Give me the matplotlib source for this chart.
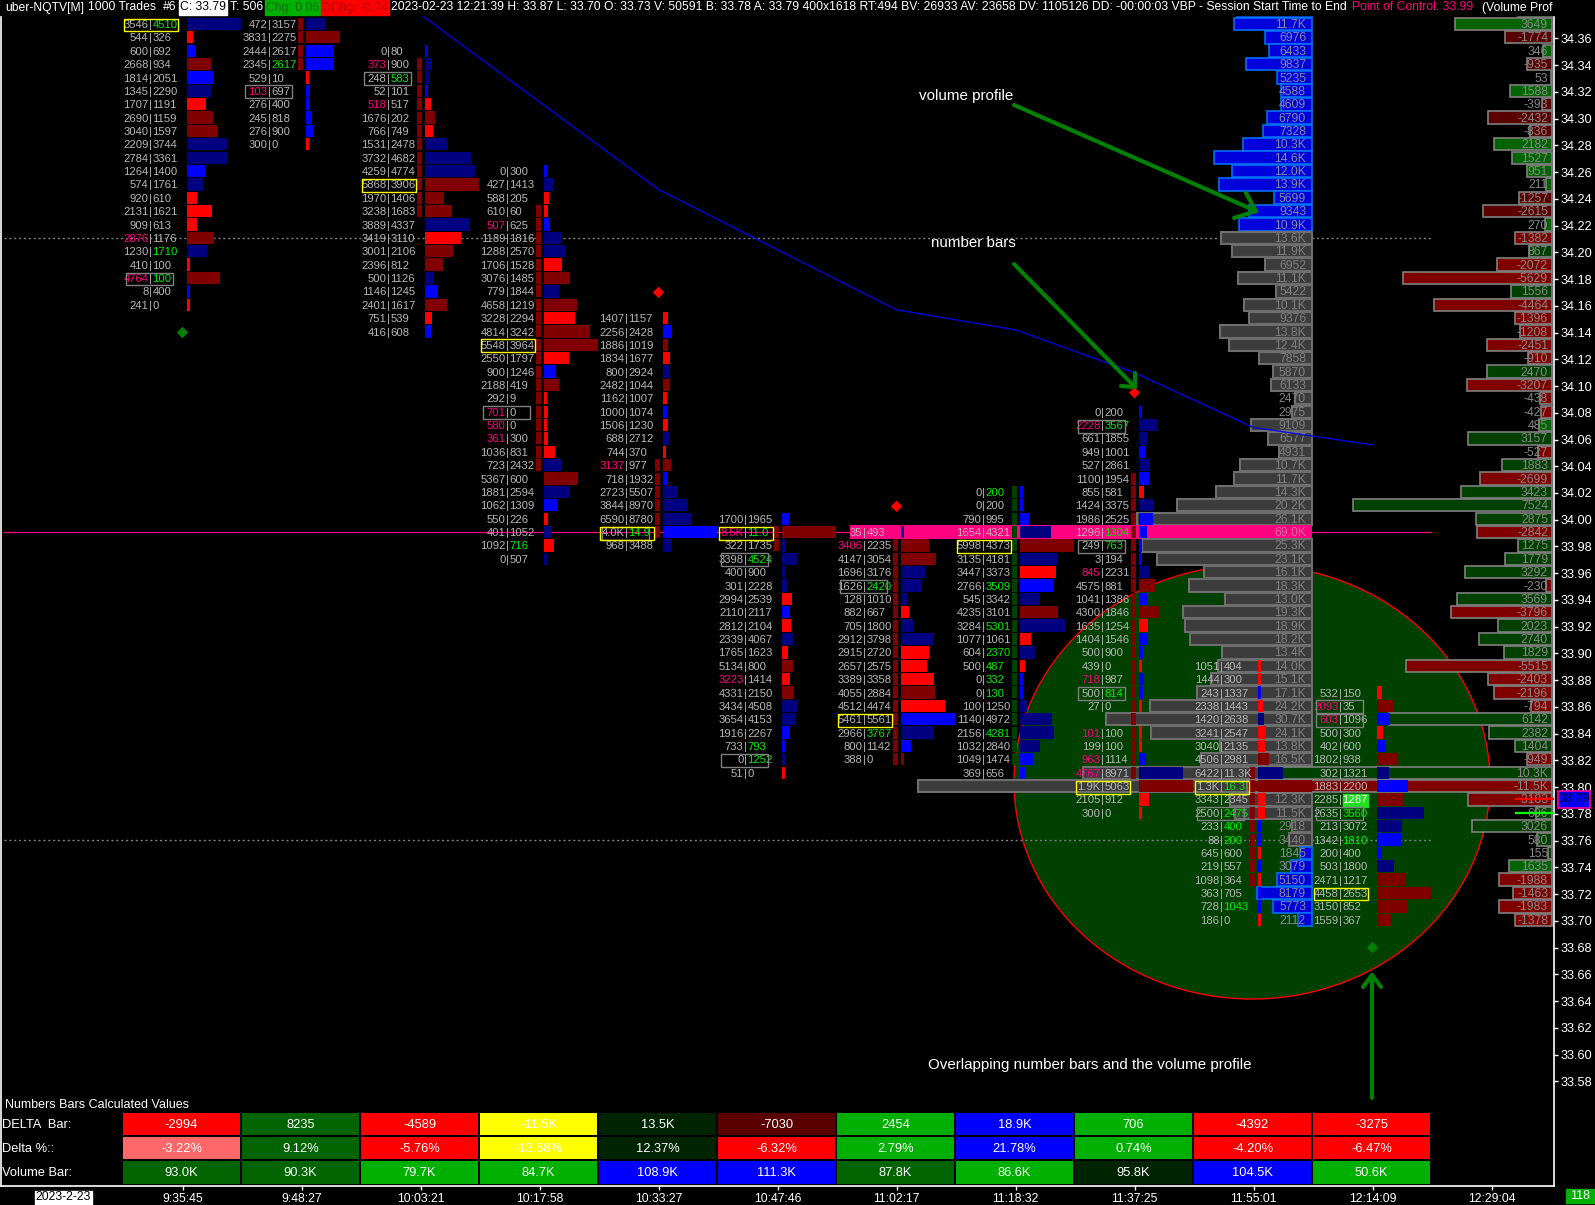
import numpy as np
import matplotlib
matplotlib.use('Agg')
import matplotlib.pyplot as plt
from matplotlib.patches import Ellipse, Rectangle

plt.rcParams['font.family'] = ['Liberation Sans', 'DejaVu Sans']

# ---- number bars: one set of lists per bar, rows go down from PRICE_TOP
PRICE_TOP = [34.37, 34.37, 34.35, 34.26, 34.15, 34.00, 33.99, 34.02, 34.08, 33.89, 33.87]

BID_0 = [3546, 544, 600, 2668, 1814, 1345, 1707, 2690, 3040, 2209, 2784, 1264, 574, 920, 2131, 909, 2876, 1230, 410, 4764, 8, 241]
ASK_0 = [4510, 326, 692, 934, 2051, 2290, 1191, 1159, 1597, 3744, 3361, 1400, 1761, 610, 1621, 613, 1176, 1710, 100, 100, 400, 0]
TONE_0 = 'bRBrBbRrrbbBbRRRrbRrBR'

BID_1 = [472, 3831, 2444, 2345, 529, 103, 276, 245, 276, 300]
ASK_1 = [3157, 2275, 2617, 2617, 10, 697, 400, 818, 900, 0]
TONE_1 = 'brBBRBBBBR'

BID_2 = [0, 373, 248, 52, 518, 1676, 766, 1531, 3732, 4259, 5868, 1970, 3238, 3889, 3419, 3001, 2396, 500, 1146, 2401, 751, 416]
ASK_2 = [80, 900, 583, 101, 517, 202, 749, 2478, 4682, 4774, 3906, 1406, 1683, 4337, 3110, 2106, 812, 1126, 1245, 1617, 539, 608]
TONE_2 = 'BbbBRrRbbbrrrbRrrbBrRB'

BID_3 = [0, 427, 588, 610, 507, 1189, 1288, 1706, 3076, 779, 4658, 3228, 4814, 5548, 2550, 900, 2188, 292, 701, 580, 361, 1036, 723, 5367, 1881, 1062, 550, 401, 1092, 0]
ASK_3 = [300, 1413, 205, 60, 625, 1816, 2570, 1528, 1485, 1844, 1219, 2294, 3242, 3964, 1797, 1246, 419, 9, 0, 0, 300, 831, 2432, 600, 2594, 1309, 226, 1052, 716, 507]
TONE_3 = 'BbRRBbbRrbrRrrRBrRRRRRbrbBRbRb'

BID_4 = [1407, 2256, 1886, 1834, 800, 2482, 1162, 1000, 1506, 688, 744, 3137, 718, 2723, 3844, 6590, 14000, 968]
ASK_4 = [1157, 2428, 1019, 1677, 2924, 1044, 1007, 1074, 1230, 2712, 370, 977, 1932, 5507, 8970, 8780, 14900, 3488]
TONE_4 = 'RBrRbrRBRbRrBbbbBb'

BID_5 = [1700, 18500, 322, 3398, 400, 301, 2994, 2110, 2812, 2339, 1765, 5134, 3223, 4331, 3434, 3654, 1916, 733, 0, 51]
ASK_5 = [1965, 11000, 1735, 4524, 900, 2228, 2539, 2117, 2104, 4067, 1623, 800, 1414, 2150, 4508, 4153, 2267, 793, 1252, 0]
TONE_5 = 'BrbbbbRBRbRrRrbbBBbR'

BID_6 = [35, 3406, 4147, 1696, 1626, 128, 882, 705, 2912, 2915, 2657, 3389, 4055, 4512, 5461, 2966, 800, 388]
ASK_6 = [493, 2235, 3054, 3176, 2420, 1010, 667, 1800, 3798, 2720, 2575, 3358, 2884, 4474, 5561, 3767, 1142, 0]
TONE_6 = 'brrbbbRbbRRRrRBbBr'

BID_7 = [0, 0, 790, 1654, 5998, 3135, 3447, 2766, 545, 4235, 3284, 1077, 604, 500, 0, 0, 100, 1140, 2156, 1032, 1049, 369]
ASK_7 = [200, 200, 995, 4321, 4373, 4181, 3373, 3509, 3342, 3101, 5301, 1061, 2370, 487, 332, 130, 1250, 4972, 4281, 2840, 1474, 656]
TONE_7 = 'BBBbrbRBbrbRbRBBbbbbBB'

# the 0|0 row of bar 8 (33.85) is an empty row in the picture
BID_8 = [0, 2228, 661, 949, 527, 1100, 855, 1424, 1986, 1296, 249, 3, 845, 4575, 1041, 4300, 1635, 1404, 500, 439, 718, 500, 27, 0, 101, 199, 963, 4767, 11900, 2105, 300]
ASK_8 = [200, 3567, 1855, 1001, 2861, 1954, 581, 3375, 2525, 1304, 763, 194, 2231, 881, 1386, 1846, 1254, 1546, 900, 0, 987, 814, 0, 0, 100, 100, 1114, 8971, 5063, 912, 0]
TONE_8 = 'BbbBbBRbBBBBbrBrRBBRBBRRRRBbrRR'

BID_9 = [1051, 1444, 243, 2338, 1420, 3241, 3040, 4506, 6422, 21300, 3343, 2500, 233, 88, 645, 219, 1098, 363, 728, 186]
ASK_9 = [404, 300, 1337, 1443, 2638, 2547, 2135, 2981, 11300, 16300, 2345, 2475, 400, 200, 600, 557, 364, 705, 1043, 0]
TONE_9 = 'RRBRbRRrbrRRBBRBRBBR'

BID_10 = [532, 2093, 603, 500, 402, 1802, 302, 1883, 2285, 2635, 213, 1342, 200, 503, 2471, 4458, 3150, 1559]
ASK_10 = [150, 35, 1096, 300, 600, 938, 1321, 2200, 1287, 3560, 3072, 1810, 400, 1800, 1217, 2653, 852, 367]
TONE_10 = 'RrBRBrbBrbbBBbrrrr'

BIDS = [BID_0, BID_1, BID_2, BID_3, BID_4, BID_5, BID_6, BID_7, BID_8, BID_9, BID_10]
ASKS = [ASK_0, ASK_1, ASK_2, ASK_3, ASK_4, ASK_5, ASK_6, ASK_7, ASK_8, ASK_9, ASK_10]
TONES = [TONE_0, TONE_1, TONE_2, TONE_3, TONE_4, TONE_5, TONE_6, TONE_7, TONE_8, TONE_9, TONE_10]

# bar 1 has its longest row hidden under the header
COLUMN_FULL = {1: 9700}

# cells whose text is clipped in the original
CLIPPED = {(4, 33.99): ('4.0K', '14.9'), (5, 33.99): ('8.5K', '11.0'),
           (8, 33.80): ('1.9K', '5063'), (9, 33.80): ('1.3K', '16.3')}

PINK_BID = [(0, 34.21), (0, 34.18), (1, 34.32), (2, 34.34), (2, 34.31), (3, 34.22), (3, 34.08),
            (3, 34.07), (3, 34.06), (4, 34.04), (5, 33.99), (5, 33.88), (6, 33.98), (8, 34.07),
            (8, 33.96), (8, 33.88), (8, 33.84), (8, 33.82), (8, 33.81), (10, 33.86), (10, 33.85)]
GREEN_ASK = [(0, 34.37), (0, 34.20), (0, 34.18), (1, 34.34), (2, 34.33), (3, 33.98), (4, 33.99),
             (5, 33.99), (5, 33.97), (5, 33.83), (5, 33.82), (6, 33.95), (6, 33.84), (7, 34.02),
             (7, 33.95), (7, 33.92), (7, 33.90), (7, 33.89), (7, 33.88), (7, 33.87), (7, 33.84),
             (8, 34.07), (8, 33.99), (8, 33.98), (8, 33.87), (9, 33.80), (9, 33.78), (9, 33.77),
             (9, 33.76), (9, 33.71), (10, 33.78), (10, 33.76)]
YELLOW_BOX = [(0, 34.37), (2, 34.25), (3, 34.13), (4, 33.99), (5, 33.99), (6, 33.85), (7, 33.98),
              (8, 33.80), (9, 33.80), (10, 33.72)]
GRAY_BOX = [(0, 34.18), (1, 34.32), (2, 34.33), (3, 34.08), (4, 33.99), (5, 33.97), (5, 33.82),
            (6, 33.95), (8, 34.07), (8, 33.98), (8, 33.87), (9, 33.78), (10, 33.86), (10, 33.85),
            (10, 33.78)]

# delta strip next to each bar: (bar, first price, last price)
STRIP_BARS = [1, 2, 3, 4, 5, 6, 7, 8, 9]
STRIP_FROM = [34.37, 34.34, 34.23, 34.04, 33.99, 33.98, 34.02, 34.03, 33.81]
STRIP_TO = [34.34, 34.23, 34.04, 33.99, 33.98, 33.82, 33.82, 33.81, 33.73]

# ---- session volume profile and delta profile, one value per price row
PROFILE_TOP = 34.38
VOLUME = [11200, 11700, 6976, 6433, 9837, 5235, 4588, 4609, 6790, 7328, 10300, 14600, 12000, 13900,
          5699, 9343, 10900, 13600, 11900, 6952, 11100, 5422, 10100, 9376, 13800, 12400, 7858, 5870,
          6133, 2470, 2975, 9109, 6577, 4931, 10700, 11700, 14300, 20200, 26100, 69000, 25300, 23100,
          16100, 18300, 13000, 19300, 18900, 18200, 13400, 14000, 15100, 17100, 24200, 30700, 24100,
          13800, 16500, 34200, 58800, 12300, 11500, 2918, 3440, 1845, 3079, 5150, 8179, 5773, 2112]
DELTA = [1300, 3649, -1774, 346, -935, 53, 1588, -393, -2432, -836, 2182, 1527, 951, 211, -1257, -2615,
         270, -1382, 867, -2072, -5629, 1556, -4464, -1396, -1208, -2451, -910, 2470, -3207, -438, -427,
         485, 3157, -527, 1883, -2699, 3423, 7524, 2875, -2842, 1275, 1779, 3292, -230, 3569, -3796,
         2023, 2740, 1829, -5515, -2403, -2196, -794, 6142, 2382, 1404, -949, 10300, -11500, -3183, 606,
         3026, 580, 155, 1635, -1988, -1463, -1983, -1378]
DELTA_BRIGHT_UP = [34.38, 34.37, 34.35, 34.33, 34.32, 34.28, 34.27, 34.26, 34.25, 34.22, 34.07, 33.74]
DELTA_DIM_DOWN = [34.36, 34.34, 34.31, 34.30, 34.29, 34.24, 34.23]
POC_PRICE = 33.99
VALUE_AREA_HIGH = 34.21
VALUE_AREA_LOW = 33.76

# blue study line, one point per bar
VWAP_BAR = [2, 4, 6, 7, 8, 9, 10]
VWAP = [34.378, 34.247, 34.157, 34.142, 34.11, 34.069, 34.056]

MARK_BARS = [0, 4, 6, 8, 10]
MARK_PRICE = [34.14, 34.17, 34.01, 34.095, 33.68]
MARK_COLOR = ['#008000', '#ff0000', '#ff0000', '#ff0000', '#008000']

PRICE_LABELS = ['34.36', '34.34', '34.32', '34.30', '34.28', '34.26', '34.24', '34.22', '34.20',
                '34.18', '34.16', '34.14', '34.12', '34.10', '34.08', '34.06', '34.04', '34.02',
                '34.00', '33.98', '33.96', '33.94', '33.92', '33.90', '33.88', '33.86', '33.84',
                '33.82', '33.80', '33.78', '33.76', '33.74', '33.72', '33.70', '33.68', '33.66',
                '33.64', '33.62', '33.60', '33.58']
TIME_LABELS = ['9:35:45', '9:48:27', '10:03:21', '10:17:58', '10:33:27', '10:47:46', '11:02:17',
               '11:18:32', '11:37:25', '11:55:01', '12:14:09', '12:29:04']

ROW_NAMES = ['DELTA  Bar:', 'Delta %::', 'Volume Bar:']
TABLE_DELTA = ['-2994', '8235', '-4589', '-11.5K', '13.5K', '-7030', '2454', '18.9K', '706', '-4392', '-3275']
TABLE_PCT = ['-3.22%', '9.12%', '-5.76%', '-13.58%', '12.37%', '-6.32%', '2.79%', '21.78%', '0.74%', '-4.20%', '-6.47%']
TABLE_VOLUME = ['93.0K', '90.3K', '79.7K', '84.7K', '108.9K', '111.3K', '87.8K', '86.6K', '95.8K', '104.5K', '50.6K']
COLORS_DELTA = ['#ff0000', '#006400', '#ff0000', '#ffff00', '#002400', '#5a0000', '#00b000', '#0000ff', '#00b000', '#ff0000', '#ff0000']
COLORS_PCT = ['#ff6868', '#006400', '#ff0000', '#ffff00', '#002400', '#ff0000', '#00b000', '#0000ff', '#00b000', '#ff0000', '#ff0000']
COLORS_VOLUME = ['#006400', '#006400', '#00b000', '#00b000', '#0000ff', '#0000ff', '#006400', '#00b000', '#002400', '#0000ff', '#00b000']

# ---- layout, in pixels of the 1595x1205 picture
W, H = 1595, 1205
PLOT_RIGHT, PLOT_BOTTOM = 1554, 1186
Y_34_36, PX_PER_PRICE = 38.4, 1337.0
TICK0, BAR_STEP = 182.5, 119.0
BAR_GAP, BAR_LEN, BAR_MIN = 4.5, 54.0, 3.0
PIPE_GAP = 36.5
ROW = 0.01
ROW_SHIFT = 0.0008  # bars sit about a pixel above the tick and the text
PROFILE_RIGHT, VOL_SCALE = 1312, 0.0067
DELTA_RIGHT, DELTA_SCALE = 1552, 0.0265
GRAY = '#b8b8b8'
PINK = '#ff0080'
LIME = '#00ee00'
FS = 8.1


def px_to_price(y):
    return 34.36 - (y - Y_34_36) / PX_PER_PRICE


def short(v):
    if abs(v) >= 10000:
        return f'{v / 1000:.1f}K'
    return str(v)


fig = plt.figure(figsize=(W / 100, H / 100), dpi=100, facecolor='black')
ax = fig.add_axes([1 / W, (H - PLOT_BOTTOM) / H, (PLOT_RIGHT - 1) / W, PLOT_BOTTOM / H], facecolor='black')
ax.set_xlim(1, PLOT_RIGHT)
ax.set_ylim(px_to_price(PLOT_BOTTOM), px_to_price(0))

tick_x = TICK0 + BAR_STEP * np.arange(len(TIME_LABELS))
ax.set_xticks(tick_x, TIME_LABELS)
ax.yaxis.tick_right()
ax.set_yticks([float(p) for p in PRICE_LABELS], PRICE_LABELS)
ax.tick_params(axis='both', colors='white', length=3, width=1, labelsize=9.2, pad=2)
ax.tick_params(axis='x', labelsize=8.8, pad=2)
ax.spines['top'].set_visible(False)
for s in ['left', 'right', 'bottom']:
    ax.spines[s].set_color('white')
    ax.spines[s].set_linewidth(1.2)

# annotation circle goes under everything
ax.add_patch(Ellipse((1252, px_to_price(782)), 476, 434 / PX_PER_PRICE, facecolor='#004000',
                     edgecolor='#ff0000', lw=1, zorder=1))

for p in [VALUE_AREA_HIGH, VALUE_AREA_LOW]:
    ax.plot([4, 1431], [p + ROW_SHIFT, p + ROW_SHIFT], color='#808080', ls=(0, (1.5, 2)), lw=1, zorder=1.5)
ax.plot([4, 1431], [POC_PRICE + ROW_SHIFT, POC_PRICE + ROW_SHIFT], color=PINK, lw=0.9, zorder=1.5)

# volume profile
prices = np.round(PROFILE_TOP - ROW * np.arange(len(VOLUME)), 2)
for p, v, d in zip(prices, VOLUME, DELTA):
    w = v * VOL_SCALE
    y = p + ROW_SHIFT
    if p == POC_PRICE:
        ax.barh(y, w, left=PROFILE_RIGHT - w, height=ROW, color=PINK, zorder=2)
        txt = '#d070a0'
    elif p > VALUE_AREA_HIGH or p < VALUE_AREA_LOW:
        ax.barh(y, w, left=PROFILE_RIGHT - w, height=ROW * 0.95, color='#0000dc',
                edgecolor='#0078ff', lw=1.1, zorder=2)
        txt = '#8a8aa0'
    else:
        ax.barh(y, w, left=PROFILE_RIGHT - w, height=ROW * 0.92, color='#3c3c3c',
                edgecolor='#6e6e6e', lw=1.5, zorder=2)
        txt = '#808080'
    ax.text(1306, p, short(v), ha='right', va='center', color=txt, fontsize=FS + 0.6, zorder=2.5)

    w = abs(d) * DELTA_SCALE
    if d >= 0:
        c = '#006400' if p in DELTA_BRIGHT_UP else '#004000'
    else:
        c = '#5a0000' if p in DELTA_DIM_DOWN else '#800000'
    ax.barh(y, w, left=DELTA_RIGHT - w, height=ROW * 0.92, color=c, edgecolor='#808080', lw=1.2, zorder=3)
    ax.text(1548, p, short(d), ha='right', va='center', color='#888888', fontsize=FS + 0.6, zorder=3.5)

# delta strips
for bar, top, bottom in zip(STRIP_BARS, STRIP_FROM, STRIP_TO):
    n = int(round((top - bottom) / ROW)) + 1
    rows = top - ROW * np.arange(n) + ROW_SHIFT
    ax.barh(rows, 5, left=tick_x[bar] + BAR_GAP - 8, height=ROW * 0.9,
            color='#004000' if bar == 7 else '#800000', zorder=5)

# number bars
TONE_COLORS = {'R': '#ff0000', 'r': '#800000', 'B': '#0000ff', 'b': '#000080'}
for bar in range(len(BIDS)):
    bids, asks, tones = BIDS[bar], ASKS[bar], TONES[bar]
    totals = np.array(bids) + np.array(asks)
    full = COLUMN_FULL.get(bar, totals.max())
    rows = np.round(PRICE_TOP[bar] - ROW * np.arange(len(bids)), 2)
    start = tick_x[bar] + BAR_GAP
    pipe = start - PIPE_GAP
    lengths = np.where(totals > 0, np.maximum(totals / full * BAR_LEN, BAR_MIN), 0)
    ax.barh(rows + ROW_SHIFT, lengths, left=start, height=ROW * 0.92,
            color=[TONE_COLORS[t] for t in tones], zorder=5)
    for p, b, a in zip(rows, bids, asks):
        if b == 0 and a == 0:
            continue
        key = (bar, float(p))
        bs, az = CLIPPED.get(key, (short(b), short(a)))
        bc = PINK if key in PINK_BID else GRAY
        ac = LIME if key in GREEN_ASK else GRAY
        if key == (10, 33.79):
            ax.add_patch(Rectangle((1343, p - ROW * 0.45), 25, ROW * 0.9, color='#20e020', zorder=6))
            ac = 'white'
        ax.text(pipe - 2, p, bs, ha='right', va='center', color=bc, fontsize=FS, zorder=7)
        ax.text(pipe, p, '|', ha='center', va='center', color=GRAY, fontsize=FS, zorder=7)
        ax.text(pipe + 2, p, az, ha='left', va='center', color=ac, fontsize=FS, zorder=7)
        if key in GRAY_BOX:
            ax.add_patch(Rectangle((pipe - 24.5, p - ROW * 0.48), 47, ROW * 0.96, fill=False,
                                   edgecolor='#808080', lw=1, zorder=8))
        if key in YELLOW_BOX:
            ax.add_patch(Rectangle((pipe - 27, p - ROW * 0.48), 54.5, ROW * 0.96, fill=False,
                                   edgecolor='#ffff00', lw=1, zorder=8))

ax.plot(tick_x[VWAP_BAR], VWAP, color='#0000f0', lw=0.9, zorder=4)
ax.scatter(tick_x[MARK_BARS], MARK_PRICE, marker='D', s=34, c=MARK_COLOR, linewidths=0, zorder=9)

# overlay in picture pixels: header, table, notes
ov = fig.add_axes([0, 0, 1, 1])
ov.set_xlim(0, W)
ov.set_ylim(H, 0)
ov.axis('off')
ov.patch.set_alpha(0)

ov.add_patch(Rectangle((0, 0), W, 15, color='black', zorder=1))
HFS = 8.75
HY = 7.5
ov.add_patch(Rectangle((179, 0), 48, 15, color='white', zorder=2))
ov.add_patch(Rectangle((265, 0), 55, 15, color='#00b000', zorder=2))
ov.add_patch(Rectangle((321, 0), 68, 15, color='#ff0000', zorder=2))
header = [(5, 'uber-NQTV[M]', 'white'), (88, '1000 Trades', 'white'), (163, '#6', 'white'),
          (180, 'C: 33.79', 'black'), (230, 'T: 506', 'white'), (266, 'Chg: 0.06', '#006a00'),
          (322, 'DChg: -0.74', '#b00000'),
          (391, '2023-02-23 12:21:39 H: 33.87 L: 33.70 O: 33.73 V: 50591 B: 33.78 A: 33.79 400x1618 '
                'RT:494 BV: 26933 AV: 23658 DV: 1105126 DD: -00:00:03 VBP - Session Start Time to End', 'white'),
          (1352, 'Point of Control: 33.99', PINK), (1482, '(Volume Prof', 'white')]
for x, s, c in header:
    ov.text(x, HY, s, color=c, fontsize=HFS, ha='left', va='center', zorder=3)

# table under the chart
table_rows = [(TABLE_DELTA, COLORS_DELTA, 1112.7, 22.3, 1125), (TABLE_PCT, COLORS_PCT, 1136.7, 22.3, 1149),
              (TABLE_VOLUME, COLORS_VOLUME, 1160.7, 23.3, 1173)]
for name, (vals, cols, top, hgt, yc) in zip(ROW_NAMES, table_rows):
    ov.text(1.5, yc, name, color='white', fontsize=9.3, va='center')
    for i, (v, c) in enumerate(zip(vals, cols)):
        ov.add_patch(Rectangle((tick_x[i] - 60, top), 117.5, hgt, color=c, lw=0, zorder=2))
        ov.text(tick_x[i] - 1, yc, v, color='white', fontsize=9.3, ha='center', va='center', zorder=3)
ov.text(5, 1105, 'Numbers Bars Calculated Values', color='white', fontsize=9.0, va='center')

# date and counter boxes
ov.text(63.5, 1197, '2023-2-23', color='black', fontsize=8.8, ha='center', va='center', zorder=3)
ov.add_patch(Rectangle((35, 1191), 57, 13, color='white', zorder=2))
ov.add_patch(Rectangle((1566, 1189), 28, 14, color='#00b000', zorder=2))
ov.text(1580, 1196, '118', color='white', fontsize=9, ha='center', va='center', zorder=3)

# last price tag and bid/ask ticks
ov.add_patch(Rectangle((1558, 791), 32, 17, facecolor='#0000ff', edgecolor='#ff00a0', lw=1.2, zorder=2))
ov.text(1574, 799.5, '33.79', color='#000050', fontsize=9.2, ha='center', va='center', zorder=3)
ov.plot([1516, 1553], [798.7, 798.7], color='#ff0000', lw=1.6, zorder=2)
ov.plot([1516, 1553], [813, 813], color='#00ff00', lw=1.6, zorder=2)

# hand drawn notes
ARROW = '#008000'
arrows = [[(1014, 105), (1256, 211)], [(1246, 193), (1256, 211), (1234, 218)],
          [(1014, 264), (1135, 387)], [(1135, 373), (1135, 387), (1121, 386)],
          [(1372, 1098), (1372, 975)], [(1363, 987), (1372, 975), (1381, 987)]]
for line in arrows:
    xs, ys = zip(*line)
    ov.plot(xs, ys, color=ARROW, lw=3, solid_capstyle='round', zorder=4)
notes = [(966, 96, 'volume profile'), (973, 243, 'number bars'),
         (1090, 1065, 'Overlapping number bars and the volume profile')]
for x, y, s in notes:
    ov.text(x, y, s, color='white', fontsize=10.9, ha='center', va='center', zorder=5)

fig.savefig('out.png', dpi=100, facecolor='black')
